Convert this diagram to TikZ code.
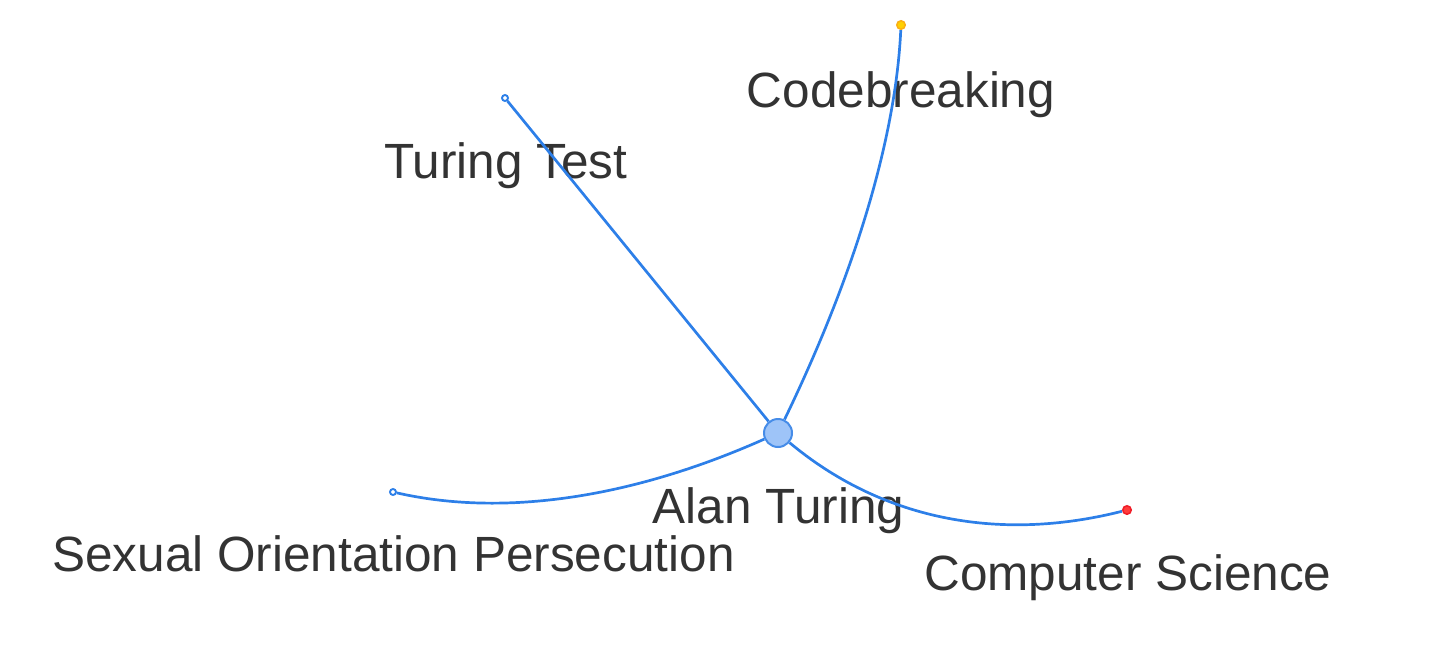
\documentclass[tikz,border=0pt]{standalone}
\usepackage{fontspec}
\setmainfont{Liberation Sans}
\pgfdeclarelayer{bg}
\pgfdeclarelayer{mid}
\pgfsetlayers{bg,mid,main}
\definecolor{edgeblue}{RGB}{45,127,232}
\definecolor{rootfill}{RGB}{158,196,248}
\definecolor{rootline}{RGB}{70,140,232}
\definecolor{txt}{RGB}{51,51,51}
\definecolor{ylwfill}{RGB}{255,208,0}
\definecolor{ylwline}{RGB}{250,175,20}
\definecolor{redfill}{RGB}{255,60,60}
\definecolor{redline}{RGB}{240,30,40}
\tikzset{
  lbl/.style={text=txt, anchor=base, inner sep=0pt, font=\fontsize{49.5}{59}\selectfont},
  edgeline/.style={draw=edgeblue, line width=2.7pt},
  leafblue/.style={circle, draw=edgeblue, fill=white, line width=1.9pt, inner sep=0pt, minimum size=6pt},
  leafylw/.style={circle, draw=ylwline, fill=ylwfill, line width=1.5pt, inner sep=0pt, minimum size=8.5pt},
  leafred/.style={circle, draw=redline, fill=redfill, line width=1.5pt, inner sep=0pt, minimum size=8.5pt},
  rootnode/.style={circle, draw=rootline, fill=rootfill, line width=2pt, inner sep=0pt, minimum size=28pt}
}
\begin{document}
\begin{tikzpicture}[x=1pt,y=-1pt]
\useasboundingbox (0,0) rectangle (1439,664);
% labels
\begin{pgfonlayer}{bg}
\node[lbl] (lroot) at (778.5,523) {Alan Turing};
\node[lbl] (ltt) at (506,178) {Turing Test};
\node[lbl] (lcb) at (901,107) {Codebreaking};
\node[lbl] (lsop) at (393.5,571) {Sexual Orientation Persecution};
\node[lbl] (lcs) at (1128,590) {Computer Science};
\end{pgfonlayer}
% nodes
\node[rootnode] (root) at (778,433) {};
\node[leafblue] (tt) at (505,98) {};
\node[leafylw] (cb) at (901,25) {};
\node[leafblue] (sop) at (393,492) {};
\node[leafred] (cs) at (1127,510) {};
% edges
\begin{pgfonlayer}{mid}
\draw[edgeline] (root) -- (tt);
\draw[edgeline] (root) .. controls (854.7,274.3) and (895.7,138.3) .. (cb);
\draw[edgeline] (root) .. controls (632.7,497.7) and (504.3,517.3) .. (sop);
\draw[edgeline] (root) .. controls (879.3,517.7) and (995.7,543.3) .. (cs);
\end{pgfonlayer}
\end{tikzpicture}
\end{document}
